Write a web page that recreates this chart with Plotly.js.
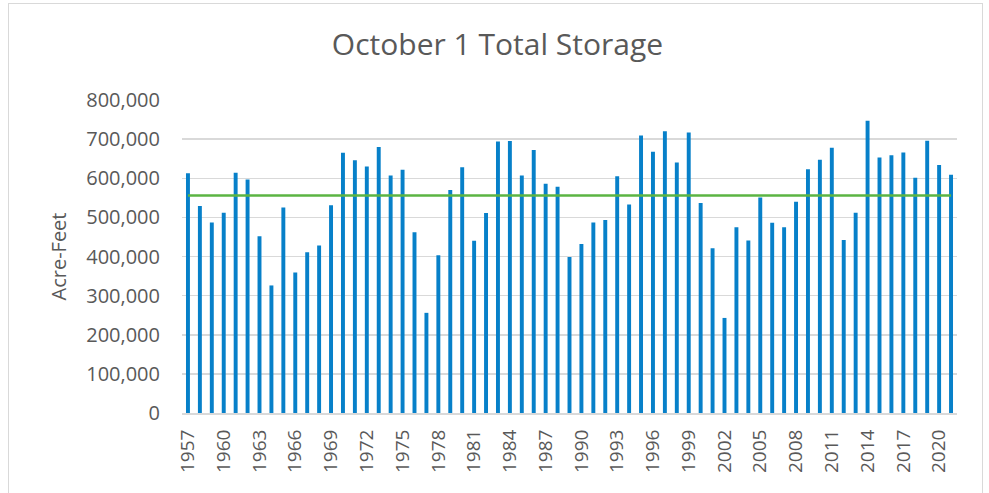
<!DOCTYPE html>
<html>
<head>
<meta charset="utf-8">
<script src="https://cdn.plot.ly/plotly-3.0.1.min.js"></script>
<style>
  html, body { margin: 0; padding: 0; background: #ffffff; }
  #wrap { position: relative; width: 989px; height: 493px; overflow: hidden; }
  #frame { position: absolute; left: 8px; top: 3px; width: 975px; height: 520px; border: 1px solid #d9d9d9; box-sizing: border-box; pointer-events: none; }
  #chart { position: absolute; left: 0; top: 0; width: 989px; height: 493px; }
</style>
</head>
<body>
<div id="wrap">
  <div id="chart"></div>
  <div id="frame"></div>
</div>
<script>
// Water years (October 1)
const years = [
  1957, 1958, 1959, 1960, 1961, 1962, 1963, 1964, 1965, 1966,
  1967, 1968, 1969, 1970, 1971, 1972, 1973, 1974, 1975, 1976,
  1977, 1978, 1979, 1980, 1981, 1982, 1983, 1984, 1985, 1986,
  1987, 1988, 1989, 1990, 1991, 1992, 1993, 1994, 1995, 1996,
  1997, 1998, 1999, 2000, 2001, 2002, 2003, 2004, 2005, 2006,
  2007, 2008, 2009, 2010, 2011, 2012, 2013, 2014, 2015, 2016,
  2017, 2018, 2019, 2020, 2021
];

// October 1 total storage (acre-feet)
const storage = [
  613000, 529000, 487000, 512000, 614000, 597000, 452000, 326000, 525000, 359000,
  411000, 428000, 531000, 665000, 646000, 630000, 680000, 607000, 622000, 462000,
  256000, 403000, 570000, 628000, 440000, 511000, 694000, 695000, 607000, 672000,
  586000, 578000, 399000, 432000, 487000, 493000, 605000, 533000, 709000, 668000,
  720000, 640000, 717000, 537000, 421000, 243000, 475000, 441000, 551000, 486000,
  475000, 540000, 623000, 647000, 678000, 442000, 512000, 747000, 653000, 659000,
  666000, 601000, 696000, 634000, 609000
];

// Long-term average (acre-feet)
const averageStorage = 556000;
const averageX = [years[0], years[years.length - 1]];
const averageY = [averageStorage, averageStorage];

const yTickVals = [0, 100000, 200000, 300000, 400000, 500000, 600000, 700000, 800000];
const yTickText = ["0", "100,000", "200,000", "300,000", "400,000", "500,000", "600,000", "700,000", "800,000"];

const textColor = "#595959";
const fontFamily = "'Open Sans', 'Noto Sans', sans-serif";

const traces = [
  {
    type: "bar",
    x: years,
    y: storage,
    marker: { color: "#0780c9", line: { width: 0 } },
    hoverinfo: "x+y",
    showlegend: false
  },
  {
    type: "scatter",
    mode: "lines",
    x: averageX,
    y: averageY,
    line: { color: "#5bb443", width: 2.6 },
    hoverinfo: "y",
    showlegend: false
  }
];

const layout = {
  width: 989,
  height: 493,
  margin: { l: 182, r: 32, t: 100, b: 80, pad: 0 },
  paper_bgcolor: "rgba(0,0,0,0)",
  plot_bgcolor: "#ffffff",
  bargap: 0.67,
  font: { family: fontFamily, color: textColor, size: 19 },
  title: {
    text: "October 1 Total Storage",
    font: { family: fontFamily, size: 30, color: textColor },
    x: 0.503,
    xanchor: "center",
    y: 0.909,
    yanchor: "middle"
  },
  xaxis: {
    type: "linear",
    range: [1956.5, 2021.5],
    tick0: 1957,
    dtick: 3,
    tickmode: "linear",
    tickangle: -90,
    ticks: "",
    ticklabelstandoff: 7,
    showgrid: false,
    zeroline: false,
    showline: true,
    linecolor: "#d9d9d9",
    linewidth: 2,
    tickfont: { family: fontFamily, size: 19, color: textColor },
    fixedrange: true
  },
  yaxis: {
    range: [0, 800000],
    tickmode: "array",
    tickvals: yTickVals,
    ticktext: yTickText,
    ticks: "",
    ticklabelstandoff: 21,
    showgrid: true,
    gridcolor: "#d9d9d9",
    gridwidth: 1.5,
    zeroline: false,
    showline: false,
    tickfont: { family: fontFamily, size: 20, color: textColor },
    title: {
      text: "Acre-Feet",
      font: { family: fontFamily, size: 20, color: textColor },
      standoff: 14
    },
    fixedrange: true
  }
};

Plotly.newPlot("chart", traces, layout, { displayModeBar: false, staticPlot: true });
</script>
</body>
</html>
